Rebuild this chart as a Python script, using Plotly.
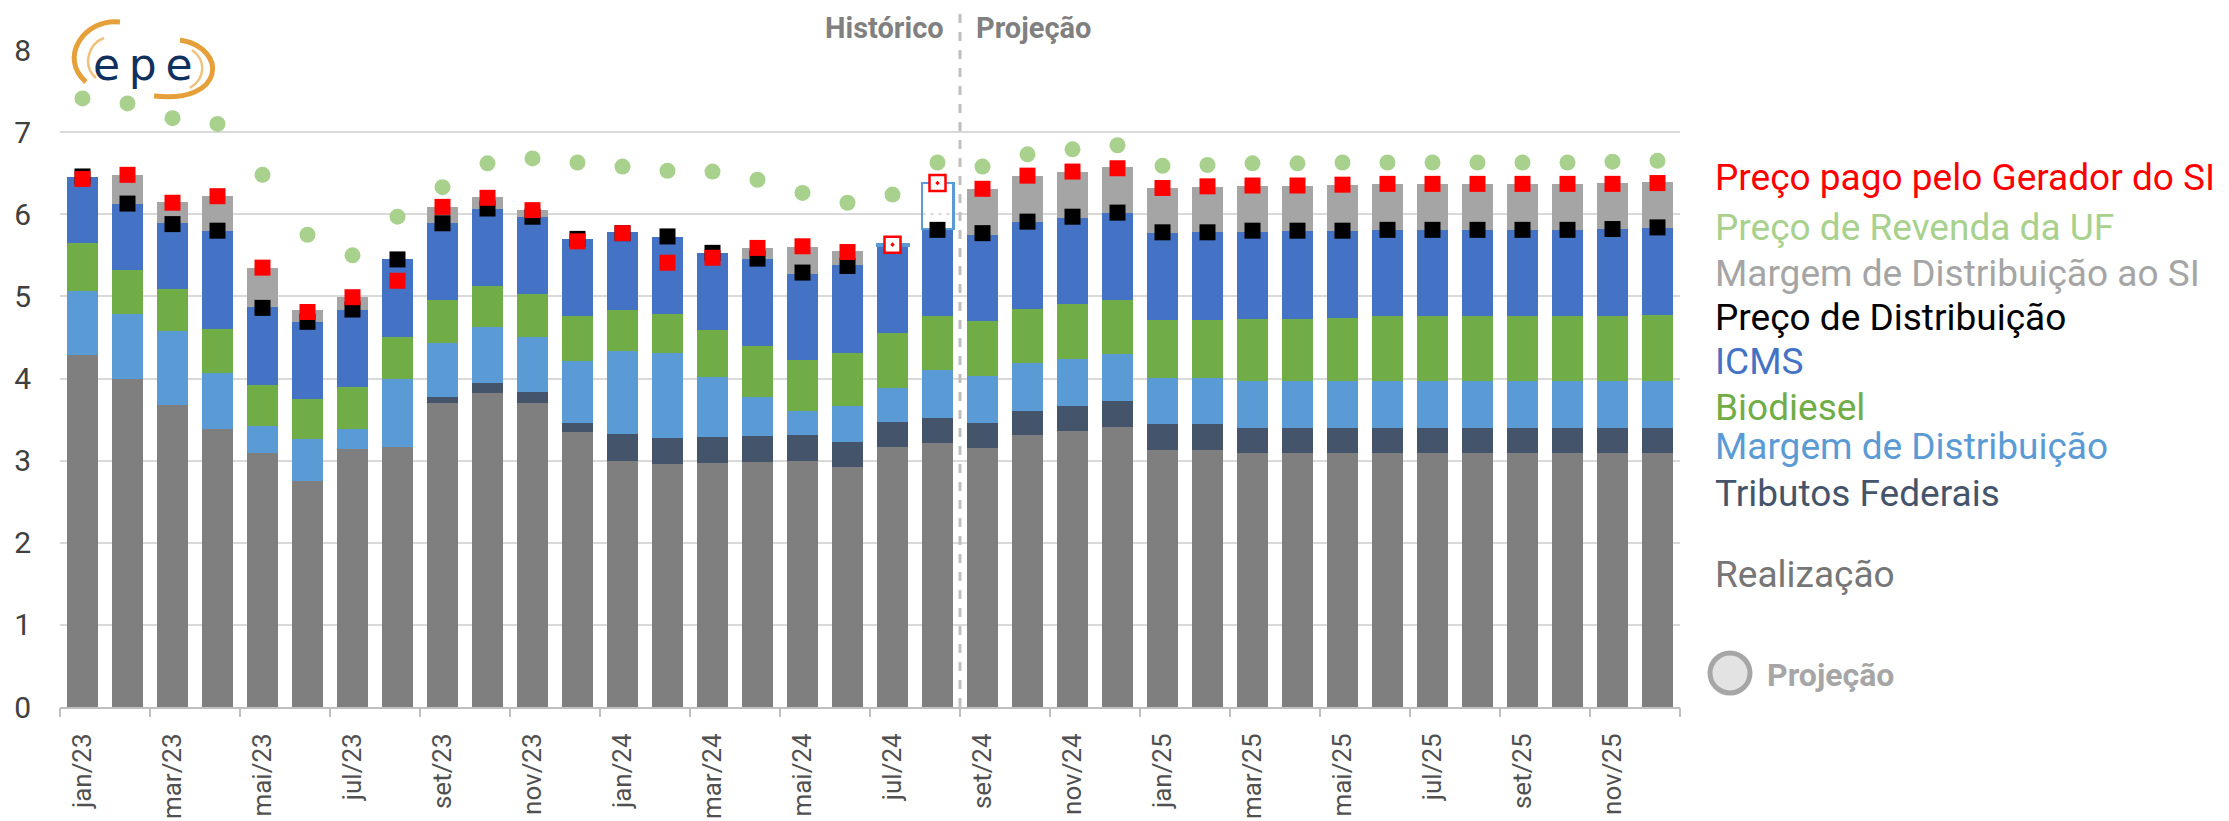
import plotly.graph_objects as go

# ---------------- DATA ----------------
categorias = ["jan/23", "fev/23", "mar/23", "abr/23", "mai/23", "jun/23", "jul/23", "ago/23",
              "set/23", "out/23", "nov/23", "dez/23", "jan/24", "fev/24", "mar/24", "abr/24",
              "mai/24", "jun/24", "jul/24", "ago/24", "set/24", "out/24", "nov/24", "dez/24",
              "jan/25", "fev/25", "mar/25", "abr/25", "mai/25", "jun/25", "jul/25", "ago/25",
              "set/25", "out/25", "nov/25", "dez/25"]

realizacao = [4.29, 3.99, 3.68, 3.39, 3.09, 2.75, 3.14, 3.17, 3.70, 3.82, 3.70, 3.35,
              3.00, 2.96, 2.97, 2.98, 3.00, 2.92, 3.16, 3.21, 3.15, 3.31, 3.36, 3.41,
              3.13, 3.13, 3.09, 3.09, 3.09, 3.09, 3.09, 3.09, 3.09, 3.09, 3.09, 3.09]
tributos_federais = [0, 0, 0, 0, 0, 0, 0, 0, 0.08, 0.12, 0.13, 0.11,
                     0.33, 0.31, 0.32, 0.32, 0.31, 0.31, 0.31, 0.31, 0.31, 0.30, 0.31, 0.32,
                     0.31, 0.31, 0.31, 0.31, 0.31, 0.31, 0.31, 0.31, 0.31, 0.31, 0.31, 0.31]
margem_distribuicao = [0.78, 0.79, 0.90, 0.68, 0.33, 0.51, 0.24, 0.82, 0.65, 0.69, 0.67, 0.75,
                       1.00, 1.04, 0.73, 0.48, 0.30, 0.44, 0.42, 0.58, 0.57, 0.58, 0.57, 0.57,
                       0.57, 0.57, 0.57, 0.57, 0.57, 0.57, 0.57, 0.57, 0.57, 0.57, 0.57, 0.57]
biodiesel = [0.58, 0.54, 0.51, 0.53, 0.50, 0.49, 0.52, 0.51, 0.52, 0.50, 0.53, 0.55,
             0.51, 0.47, 0.57, 0.62, 0.61, 0.64, 0.67, 0.66, 0.67, 0.66, 0.67, 0.65,
             0.70, 0.70, 0.76, 0.76, 0.77, 0.79, 0.79, 0.79, 0.79, 0.79, 0.79, 0.80]
icms = [0.80, 0.81, 0.80, 1.20, 0.95, 0.94, 0.94, 0.95, 0.94, 0.94, 0.94, 0.94,
        0.94, 0.94, 0.94, 1.06, 1.05, 1.07, 1.06, 1.06, 1.05, 1.06, 1.05, 1.06,
        1.06, 1.07, 1.06, 1.07, 1.06, 1.05, 1.05, 1.05, 1.05, 1.05, 1.06, 1.06]
margem_distribuicao_si = [0, 0.35, 0.26, 0.42, 0.48, 0.14, 0.15, 0, 0.20, 0.14, 0.08, 0,
                          0, 0, 0, 0.13, 0.33, 0.17, 0.01, 0.56, 0.56, 0.56, 0.56, 0.56,
                          0.55, 0.55, 0.56, 0.55, 0.56, 0.56, 0.56, 0.56, 0.56, 0.56, 0.56, 0.56]

preco_distribuicao = [6.46, 6.13, 5.88, 5.80, 4.86, 4.69, 4.84, 5.45, 5.89, 6.07, 5.97, 5.70,
                      5.77, 5.73, 5.53, 5.46, 5.29, 5.37, 5.62, 5.81, 5.77, 5.91, 5.97, 6.02,
                      5.78, 5.78, 5.80, 5.80, 5.80, 5.81, 5.81, 5.81, 5.81, 5.81, 5.82, 5.84]
preco_gerador_si = [6.43, 6.48, 6.14, 6.22, 5.35, 4.81, 4.99, 5.19, 6.09, 6.20, 6.05, 5.67,
                    5.77, 5.41, 5.47, 5.59, 5.61, 5.54, 5.63, 6.38, 6.31, 6.47, 6.52, 6.56,
                    6.32, 6.34, 6.35, 6.35, 6.36, 6.37, 6.37, 6.37, 6.37, 6.37, 6.37, 6.38]
preco_revenda_uf = [7.41, 7.35, 7.17, 7.10, 6.48, 5.75, 5.50, 5.97, 6.33, 6.62, 6.68, 6.63,
                    6.58, 6.53, 6.52, 6.42, 6.26, 6.14, 6.24, 6.63, 6.58, 6.73, 6.79, 6.84,
                    6.59, 6.60, 6.62, 6.62, 6.63, 6.63, 6.63, 6.63, 6.63, 6.63, 6.64, 6.65]
# months of the SI series that are already projected (shown with a dotted fill)
si_projetado = [False] * 18 + [True, True] + [False] * 16
inicio_projecao = "set/24"

legenda = ["Preço pago pelo Gerador do SI", "Preço de Revenda da UF", "Margem de Distribuição ao SI",
           "Preço de Distribuição", "ICMS", "Biodiesel", "Margem de Distribuição",
           "Tributos Federais", "Realização"]

# ---------------- LAYOUT HELPERS ----------------
OFF = 8                      # default page margin of the html body
W, H = 2229 - OFF, 821 - OFF
ML, MR, MT, MB = 52, 549, 42, 114
PW, PH = W - ML - MR, H - MT - MB
FONT = "Roboto"


def px(xp):  # page pixel -> paper x
    return (xp - OFF - ML) / PW


def py(yp):  # page pixel -> paper y
    return (H - MB - (yp - OFF)) / PH


x = list(range(len(categorias)))
n = len(x)

C_REAL = "#7F7F7F"
C_TRIB = "#44546A"
C_MDIST = "#5B9BD5"
C_BIO = "#70AD47"
C_ICMS = "#4472C4"
C_MSI = "#A5A5A5"
C_RED = "#FF0000"
C_GREEN = "#A9D18E"

fig = go.Figure()

for vals, color in [(realizacao, C_REAL), (tributos_federais, C_TRIB), (margem_distribuicao, C_MDIST),
                    (biodiesel, C_BIO), (icms, C_ICMS)]:
    fig.add_trace(go.Bar(x=x, y=vals, marker=dict(color=color, line=dict(width=0)),
                         width=0.7, showlegend=False, hoverinfo="skip"))

fig.add_trace(go.Bar(
    x=x, y=margem_distribuicao_si, width=0.7, showlegend=False, hoverinfo="skip",
    marker=dict(
        color=["white" if p else C_MSI for p in si_projetado],
        line=dict(color=[C_MDIST if p else "rgba(0,0,0,0)" for p in si_projetado],
                  width=[2.5 if p else 0 for p in si_projetado]),
        pattern=dict(shape=["." if p else "" for p in si_projetado],
                     fgcolor="#8C8C8C", bgcolor="white", size=8, solidity=0.3,
                     fillmode="replace"),
    )))

# markers
fig.add_trace(go.Scatter(x=x, y=preco_revenda_uf, mode="markers", showlegend=False, hoverinfo="skip",
                         marker=dict(symbol="circle", size=16, color=C_GREEN)))
fig.add_trace(go.Scatter(x=x, y=preco_distribuicao, mode="markers", showlegend=False, hoverinfo="skip",
                         marker=dict(symbol="square", size=16, color="black")))
fig.add_trace(go.Scatter(
    x=x, y=preco_gerador_si, mode="markers", showlegend=False, hoverinfo="skip",
    marker=dict(symbol=["square-dot" if p else "square" for p in si_projetado], size=16,
                color=["white" if p else C_RED for p in si_projetado],
                line=dict(color=C_RED, width=[2.5 if p else 0 for p in si_projetado]))))

# invisible trace for the boundary-tick axis
fig.add_trace(go.Scatter(x=[-0.5, n - 0.5], y=[None, None], xaxis="x2", mode="markers",
                         showlegend=False, hoverinfo="skip"))

# ---------------- SHAPES / ANNOTATIONS ----------------
div_x = categorias.index(inicio_projecao) - 0.5
fig.add_shape(type="line", xref="x", yref="paper", x0=div_x, x1=div_x, y0=0, y1=py(9),
              line=dict(color="#BFBFBF", width=3, dash="dash"), layer="above")
fig.add_annotation(xref="x", yref="paper", x=div_x, y=py(OFF + 1), xanchor="right", yanchor="top",
                   xshift=-14, text="<b>Histórico</b>", showarrow=False,
                   font=dict(family=FONT, size=29, color="#808080"))
fig.add_annotation(xref="x", yref="paper", x=div_x, y=py(OFF + 1), xanchor="left", yanchor="top",
                   xshift=14, text="<b>Projeção</b>", showarrow=False,
                   font=dict(family=FONT, size=29, color="#808080"))

leg_colors = [C_RED, C_GREEN, C_MSI, "#000000", C_ICMS, C_BIO, C_MDIST, C_TRIB, "#767676"]
leg_y = [176, 226, 272, 316, 360, 406, 445, 492, 573]
for txt, col, yy in zip(legenda, leg_colors, leg_y):
    fig.add_annotation(xref="paper", yref="paper", x=px(1713), y=py(yy + 1), xanchor="left",
                       yanchor="middle", text=txt, showarrow=False,
                       font=dict(family=FONT, size=37, color=col))

# Projeção icon
fig.add_shape(type="circle", xref="paper", yref="paper", x0=px(1710), x1=px(1750), y0=py(693), y1=py(653),
              line=dict(color="#A6A6A6", width=5), fillcolor="#E3E3E3", layer="above")
fig.add_annotation(xref="paper", yref="paper", x=px(1765), y=py(675), xanchor="left", yanchor="middle",
                   text="<b>Projeção</b>", showarrow=False,
                   font=dict(family=FONT, size=32, color="#A6A6A6"))


# EPE logo (approximation)
def cpath(p0, c1, c2, p1):
    pts = [p0, c1, c2, p1]
    s = [f"{px(a)},{py(b)}" for a, b in pts]
    return f"M {s[0]} C {s[1]} {s[2]} {s[3]}"


for p0, c1, c2, p1, w, col in [
        ((120, 22), (84, 18), (58, 58), (86, 82), 5, "#E6A03A"),
        ((180, 40), (228, 48), (226, 104), (154, 96), 5, "#E6A03A"),
        ((104, 38), (88, 44), (82, 66), (96, 78), 2.5, "#EFC27E"),
        ((192, 50), (206, 60), (206, 78), (190, 88), 2.5, "#EFC27E")]:
    fig.add_shape(type="path", xref="paper", yref="paper", path=cpath(p0, c1, c2, p1),
                  line=dict(color=col, width=w), layer="above")
fig.add_annotation(xref="paper", yref="paper", x=px(143), y=py(64), xanchor="center", yanchor="middle",
                   text="e\u2009p\u2009e", showarrow=False,
                   font=dict(family="DejaVu Sans", size=44, color="#10305E"))

# ---------------- AXES ----------------
fig.update_layout(
    width=W, height=H, margin=dict(l=ML, r=MR, t=MT, b=MB, autoexpand=False),
    plot_bgcolor="white", paper_bgcolor="white", barmode="stack", bargap=0.3,
    font=dict(family=FONT),
    xaxis=dict(range=[-0.5, n - 0.5], tickmode="array", tickvals=x[::2], ticktext=categorias[::2],
               tickangle=-90, tickfont=dict(family=FONT, size=26, color="#505050"),
               showgrid=False, zeroline=False, showline=True, linecolor="#BFBFBF", linewidth=2,
               ticks="", ticklabelstandoff=14),
    xaxis2=dict(range=[-0.5, n - 0.5], overlaying="x", anchor="y", side="bottom",
                tickmode="array", tickvals=[i - 0.5 for i in range(0, n + 1, 2)],
                ticks="outside", ticklen=9, tickwidth=2, tickcolor="#BFBFBF",
                showticklabels=False, showgrid=False, zeroline=False, showline=False),
    yaxis=dict(range=[0, 8], dtick=1, showgrid=True, gridcolor="#D9D9D9", gridwidth=1.5,
               zeroline=False, showline=False, ticks="",
               tickfont=dict(family=FONT, size=30, color="#404040"), ticklabelstandoff=28),
)

fig.write_html("out.html")
